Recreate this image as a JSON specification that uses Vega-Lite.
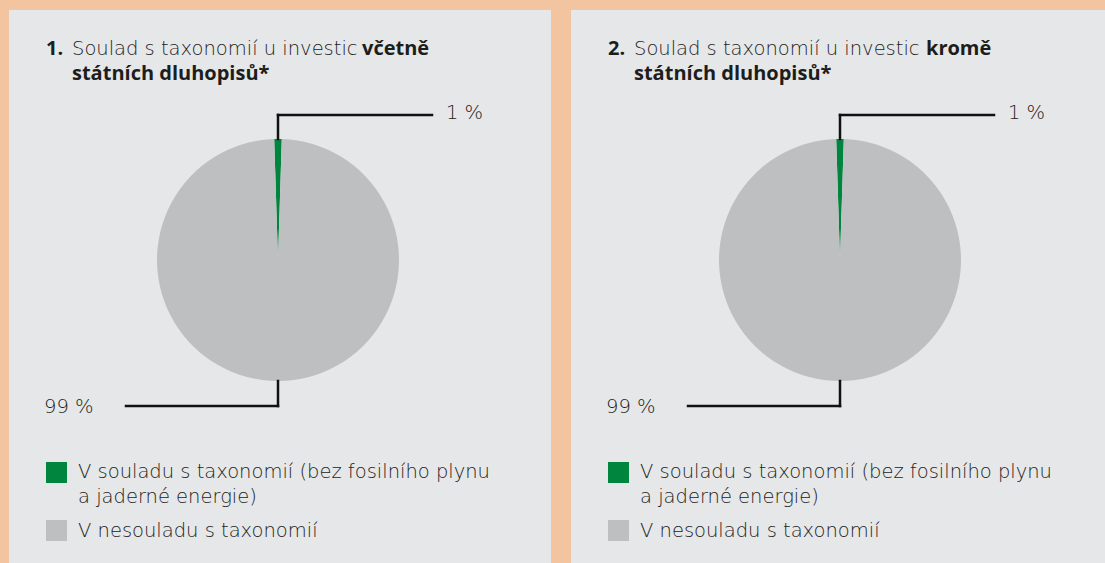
{
  "$schema": "https://vega.github.io/schema/vega-lite/v6.json",
  "background": "#F2C4A0",
  "padding": {"left": 9, "top": 10, "right": 0, "bottom": 0},
  "spacing": 20,
  "config": {
    "view": {"stroke": null},
    "text": {"font": "DejaVu Sans", "fontSize": 19.5, "fontWeight": 300, "color": "#1d1d1b", "align": "left", "baseline": "alphabetic"}
  },
  "data": {"values": [
    {"panel": 1, "category": "V souladu s taxonomií (bez fosilního plynu a jaderné energie)", "value": 1},
    {"panel": 1, "category": "V nesouladu s taxonomií", "value": 99},
    {"panel": 2, "category": "V souladu s taxonomií (bez fosilního plynu a jaderné energie)", "value": 1},
    {"panel": 2, "category": "V nesouladu s taxonomií", "value": 99}
  ]},
  "hconcat": [
    {
      "width": 542, "height": 553,
      "view": {"fill": "#E6E7E8", "stroke": null},
      "layer": [
        {
          "transform": [{"filter": "datum.panel == 1"}],
          "mark": {"type": "arc", "outerRadius": 121, "stroke": null},
          "encoding": {
            "x": {"datum": 269, "type": "quantitative", "scale": {"domain": [0, 542], "range": [0, 542], "nice": false, "zero": false}, "axis": null},
            "y": {"datum": 250, "type": "quantitative", "scale": {"domain": [0, 553], "range": [0, 553], "nice": false, "zero": false}, "axis": null},
            "theta": {"field": "value", "type": "quantitative", "stack": true, "scale": {"range": [-0.0314, 6.2518]}},
            "order": {"field": "value", "sort": "ascending"},
            "color": {"field": "category", "type": "nominal", "legend": null,
              "scale": {"domain": ["V souladu s taxonomií (bez fosilního plynu a jaderné energie)", "V nesouladu s taxonomií"], "range": ["#00853E", "#BEBFC1"]}}
          }
        },
        {"data": {"values": [{}]}, "mark": {"type": "rule", "color": "#111111", "strokeWidth": 2.5, "strokeCap": "square"},
          "encoding": {"x": {"datum": 269, "type": "quantitative"}, "x2": {"datum": 423}, "y": {"datum": 105, "type": "quantitative"}}},
        {"data": {"values": [{}]}, "mark": {"type": "rule", "color": "#111111", "strokeWidth": 2.5, "strokeCap": "square"},
          "encoding": {"x": {"datum": 269, "type": "quantitative"}, "y": {"datum": 105, "type": "quantitative"}, "y2": {"datum": 129}}},
        {"data": {"values": [{}]}, "mark": {"type": "rule", "color": "#111111", "strokeWidth": 2.5, "strokeCap": "square"},
          "encoding": {"x": {"datum": 117, "type": "quantitative"}, "x2": {"datum": 269}, "y": {"datum": 396, "type": "quantitative"}}},
        {"data": {"values": [{}]}, "mark": {"type": "rule", "color": "#111111", "strokeWidth": 2.5, "strokeCap": "square"},
          "encoding": {"x": {"datum": 269, "type": "quantitative"}, "y": {"datum": 371, "type": "quantitative"}, "y2": {"datum": 396}}},
        {"data": {"values": [{}]}, "mark": {"type": "text", "baseline": "middle"},
          "encoding": {"x": {"datum": 437, "type": "quantitative"}, "y": {"datum": 103, "type": "quantitative"}, "text": {"value": "1 %"}}},
        {"data": {"values": [{}]}, "mark": {"type": "text", "baseline": "middle"},
          "encoding": {"x": {"datum": 35, "type": "quantitative"}, "y": {"datum": 397, "type": "quantitative"}, "text": {"value": "99 %"}}},
        {"data": {"values": [{}]}, "mark": {"type": "text", "font": "Open Sans", "fontWeight": 700, "fontSize": 20},
          "encoding": {"x": {"datum": 37, "type": "quantitative"}, "y": {"datum": 45, "type": "quantitative"}, "text": {"value": "1."}}},
        {"data": {"values": [{}]}, "mark": {"type": "text"},
          "encoding": {"x": {"datum": 63, "type": "quantitative"}, "y": {"datum": 45, "type": "quantitative"}, "text": {"value": "Soulad s taxonomií u investic"}}},
        {"data": {"values": [{}]}, "mark": {"type": "text", "font": "Open Sans", "fontWeight": 700, "fontSize": 20},
          "encoding": {"x": {"datum": 353, "type": "quantitative"}, "y": {"datum": 45, "type": "quantitative"}, "text": {"value": "včetně"}}},
        {"data": {"values": [{}]}, "mark": {"type": "text", "font": "Open Sans", "fontWeight": 700, "fontSize": 20},
          "encoding": {"x": {"datum": 63, "type": "quantitative"}, "y": {"datum": 70, "type": "quantitative"}, "text": {"value": "státních dluhopisů*"}}},
        {"data": {"values": [{}]}, "mark": {"type": "rect"},
          "encoding": {"x": {"datum": 37, "type": "quantitative"}, "x2": {"datum": 58}, "y": {"datum": 452, "type": "quantitative"}, "y2": {"datum": 473},
            "color": {"datum": "V souladu s taxonomií (bez fosilního plynu a jaderné energie)", "type": "nominal"}}},
        {"data": {"values": [{}]}, "mark": {"type": "rect"},
          "encoding": {"x": {"datum": 37, "type": "quantitative"}, "x2": {"datum": 58}, "y": {"datum": 510, "type": "quantitative"}, "y2": {"datum": 531},
            "color": {"datum": "V nesouladu s taxonomií", "type": "nominal"}}},
        {"data": {"values": [{}]}, "mark": {"type": "text", "baseline": "middle"},
          "encoding": {"x": {"datum": 69, "type": "quantitative"}, "y": {"datum": 462, "type": "quantitative"}, "text": {"value": "V souladu s taxonomií (bez fosilního plynu"}}},
        {"data": {"values": [{}]}, "mark": {"type": "text", "baseline": "middle"},
          "encoding": {"x": {"datum": 69, "type": "quantitative"}, "y": {"datum": 487, "type": "quantitative"}, "text": {"value": "a jaderné energie)"}}},
        {"data": {"values": [{}]}, "mark": {"type": "text", "baseline": "middle"},
          "encoding": {"x": {"datum": 69, "type": "quantitative"}, "y": {"datum": 521, "type": "quantitative"}, "text": {"value": "V nesouladu s taxonomií"}}}
      ]
    },
    {
      "width": 534, "height": 553,
      "view": {"fill": "#E6E7E8", "stroke": null},
      "layer": [
        {
          "transform": [{"filter": "datum.panel == 2"}],
          "mark": {"type": "arc", "outerRadius": 121, "stroke": null},
          "encoding": {
            "x": {"datum": 269, "type": "quantitative", "scale": {"domain": [0, 534], "range": [0, 534], "nice": false, "zero": false}, "axis": null},
            "y": {"datum": 250, "type": "quantitative", "scale": {"domain": [0, 553], "range": [0, 553], "nice": false, "zero": false}, "axis": null},
            "theta": {"field": "value", "type": "quantitative", "stack": true, "scale": {"range": [-0.0314, 6.2518]}},
            "order": {"field": "value", "sort": "ascending"},
            "color": {"field": "category", "type": "nominal", "legend": null,
              "scale": {"domain": ["V souladu s taxonomií (bez fosilního plynu a jaderné energie)", "V nesouladu s taxonomií"], "range": ["#00853E", "#BEBFC1"]}}
          }
        },
        {"data": {"values": [{}]}, "mark": {"type": "rule", "color": "#111111", "strokeWidth": 2.5, "strokeCap": "square"},
          "encoding": {"x": {"datum": 269, "type": "quantitative"}, "x2": {"datum": 423}, "y": {"datum": 105, "type": "quantitative"}}},
        {"data": {"values": [{}]}, "mark": {"type": "rule", "color": "#111111", "strokeWidth": 2.5, "strokeCap": "square"},
          "encoding": {"x": {"datum": 269, "type": "quantitative"}, "y": {"datum": 105, "type": "quantitative"}, "y2": {"datum": 129}}},
        {"data": {"values": [{}]}, "mark": {"type": "rule", "color": "#111111", "strokeWidth": 2.5, "strokeCap": "square"},
          "encoding": {"x": {"datum": 117, "type": "quantitative"}, "x2": {"datum": 269}, "y": {"datum": 396, "type": "quantitative"}}},
        {"data": {"values": [{}]}, "mark": {"type": "rule", "color": "#111111", "strokeWidth": 2.5, "strokeCap": "square"},
          "encoding": {"x": {"datum": 269, "type": "quantitative"}, "y": {"datum": 371, "type": "quantitative"}, "y2": {"datum": 396}}},
        {"data": {"values": [{}]}, "mark": {"type": "text", "baseline": "middle"},
          "encoding": {"x": {"datum": 437, "type": "quantitative"}, "y": {"datum": 103, "type": "quantitative"}, "text": {"value": "1 %"}}},
        {"data": {"values": [{}]}, "mark": {"type": "text", "baseline": "middle"},
          "encoding": {"x": {"datum": 35, "type": "quantitative"}, "y": {"datum": 397, "type": "quantitative"}, "text": {"value": "99 %"}}},
        {"data": {"values": [{}]}, "mark": {"type": "text", "font": "Open Sans", "fontWeight": 700, "fontSize": 20},
          "encoding": {"x": {"datum": 37, "type": "quantitative"}, "y": {"datum": 45, "type": "quantitative"}, "text": {"value": "2."}}},
        {"data": {"values": [{}]}, "mark": {"type": "text"},
          "encoding": {"x": {"datum": 63, "type": "quantitative"}, "y": {"datum": 45, "type": "quantitative"}, "text": {"value": "Soulad s taxonomií u investic"}}},
        {"data": {"values": [{}]}, "mark": {"type": "text", "font": "Open Sans", "fontWeight": 700, "fontSize": 20},
          "encoding": {"x": {"datum": 355, "type": "quantitative"}, "y": {"datum": 45, "type": "quantitative"}, "text": {"value": "kromě"}}},
        {"data": {"values": [{}]}, "mark": {"type": "text", "font": "Open Sans", "fontWeight": 700, "fontSize": 20},
          "encoding": {"x": {"datum": 63, "type": "quantitative"}, "y": {"datum": 70, "type": "quantitative"}, "text": {"value": "státních dluhopisů*"}}},
        {"data": {"values": [{}]}, "mark": {"type": "rect"},
          "encoding": {"x": {"datum": 37, "type": "quantitative"}, "x2": {"datum": 58}, "y": {"datum": 452, "type": "quantitative"}, "y2": {"datum": 473},
            "color": {"datum": "V souladu s taxonomií (bez fosilního plynu a jaderné energie)", "type": "nominal"}}},
        {"data": {"values": [{}]}, "mark": {"type": "rect"},
          "encoding": {"x": {"datum": 37, "type": "quantitative"}, "x2": {"datum": 58}, "y": {"datum": 510, "type": "quantitative"}, "y2": {"datum": 531},
            "color": {"datum": "V nesouladu s taxonomií", "type": "nominal"}}},
        {"data": {"values": [{}]}, "mark": {"type": "text", "baseline": "middle"},
          "encoding": {"x": {"datum": 69, "type": "quantitative"}, "y": {"datum": 462, "type": "quantitative"}, "text": {"value": "V souladu s taxonomií (bez fosilního plynu"}}},
        {"data": {"values": [{}]}, "mark": {"type": "text", "baseline": "middle"},
          "encoding": {"x": {"datum": 69, "type": "quantitative"}, "y": {"datum": 487, "type": "quantitative"}, "text": {"value": "a jaderné energie)"}}},
        {"data": {"values": [{}]}, "mark": {"type": "text", "baseline": "middle"},
          "encoding": {"x": {"datum": 69, "type": "quantitative"}, "y": {"datum": 521, "type": "quantitative"}, "text": {"value": "V nesouladu s taxonomií"}}}
      ]
    }
  ]
}
